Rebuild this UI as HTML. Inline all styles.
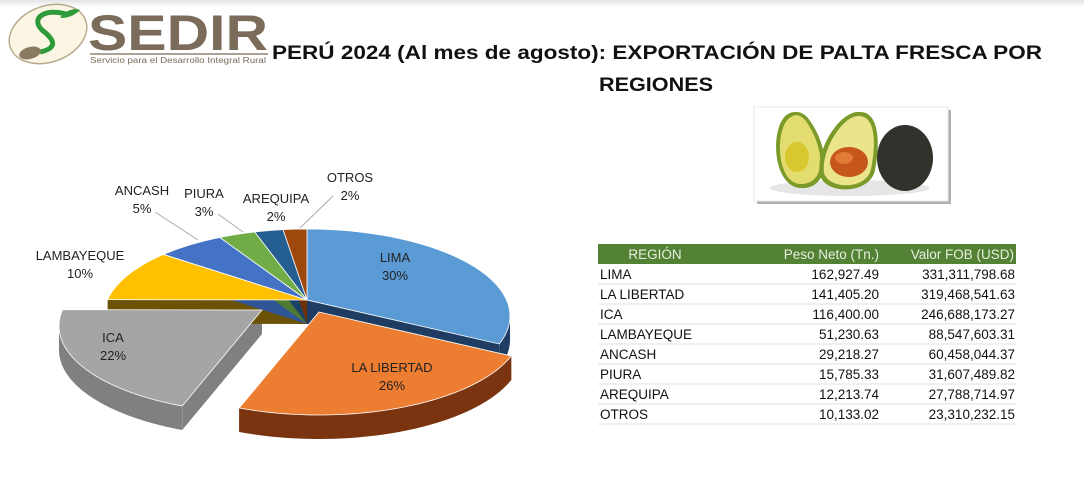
<!DOCTYPE html>
<html><head><meta charset="utf-8">
<style>
body{margin:0;width:1084px;height:496px;background:#fff;overflow:hidden;font-family:"Liberation Sans",sans-serif;}
svg{display:block}
</style></head>
<body>
<svg width="1084" height="496" viewBox="0 0 1084 496">
<defs>
<linearGradient id="topbar" x1="0" y1="0" x2="0" y2="1"><stop offset="0" stop-color="#e4e4e4"/><stop offset="1" stop-color="#fff"/></linearGradient>
</defs>
<rect x="0" y="0" width="1084" height="7" fill="url(#topbar)"/>
<g>
  <ellipse cx="48" cy="34" rx="40" ry="28" transform="rotate(-20 48 34)" fill="#fbf6e4" stroke="#b8a98a" stroke-width="1.5"/>
  <path d="M66 14 C45 8,30 18,42 30 C55 40,58 48,40 52" fill="none" stroke="#2e9b3a" stroke-width="5"/>
  <path d="M60 18 C66 9,76 8,80 10 C74 16,68 18,60 18Z" fill="#2e9b3a"/>
  <ellipse cx="30" cy="53" rx="11" ry="6" transform="rotate(-15 30 53)" fill="#8a7a62"/>
  <text x="88" y="50" font-size="50" font-weight="bold" fill="#7b6b5a" textLength="180" lengthAdjust="spacingAndGlyphs">SEDIR</text>
  <line x1="90" y1="54" x2="268" y2="54" stroke="#7b6b5a" stroke-width="1.2"/>
  <text x="90" y="63" font-size="8" fill="#7b6b5a" textLength="176" lengthAdjust="spacingAndGlyphs">Servicio para el Desarrollo Integral Rural</text>
</g>
<text x="272" y="59" font-size="19.5" font-weight="bold" fill="#111" textLength="770" lengthAdjust="spacingAndGlyphs">PERÚ 2024 (Al mes de agosto): EXPORTACIÓN DE PALTA FRESCA POR</text>
<text x="599" y="91" font-size="19.5" font-weight="bold" fill="#111" textLength="114" lengthAdjust="spacingAndGlyphs">REGIONES</text>

<g>
  <rect x="757" y="110" width="194" height="94" fill="#b0b0b0"/>
  <rect x="754" y="107" width="194" height="94" fill="#fff" stroke="#e8e8e8"/>
  <ellipse cx="850" cy="188" rx="80" ry="8" fill="#e6e6e6"/>
  <ellipse cx="905" cy="158" rx="28" ry="33" fill="#2f332c"/>
  <path d="M790 113 C770 120,770 185,800 188 C830 190,832 150,808 118 C802 111,795 111,790 113Z" fill="#7a9a2a"/>
  <path d="M791 117 C775 125,775 182,800 184 C826 185,826 150,806 121 C800 114,795 114,791 117Z" fill="#e3dc6e"/>
  <ellipse cx="797" cy="157" rx="12" ry="15" fill="#d9c730"/>
  <path d="M860 112 C840 110,815 150,820 175 C825 195,870 195,875 170 C880 145,880 112,860 112Z" fill="#7a9a2a"/>
  <path d="M859 116 C843 115,821 150,824 173 C829 190,867 190,871 169 C876 145,876 116,859 116Z" fill="#ebe48a"/>
  <ellipse cx="849" cy="162" rx="19" ry="15" fill="#c5571a"/>
  <ellipse cx="844" cy="158" rx="9" ry="6" fill="#e07a35"/>
</g>

<g id="pie"></g>

<g>
  <rect x="598" y="244" width="418" height="20" fill="#548235"/>
  <text x="655" y="259" font-size="13.5" fill="#e8efe0" text-anchor="middle">REGIÓN</text>
  <text x="879" y="259" font-size="13.5" fill="#e8efe0" text-anchor="end">Peso Neto (Tn.)</text>
  <text x="1014" y="259" font-size="13.5" fill="#e8efe0" text-anchor="end">Valor FOB (USD)</text>
  <g id="rows"></g>
</g>
</svg>
<script>
const regions=["LIMA","LA LIBERTAD","ICA","LAMBAYEQUE","ANCASH","PIURA","AREQUIPA","OTROS"];
const peso=[162927.49,141405.20,116400.00,51230.63,29218.27,15785.33,12213.74,10133.02];
const valor=[331311798.68,319468541.63,246688173.27,88547603.31,60458044.37,31607489.82,27788714.97,23310232.15];
const pctLabels=["30%","26%","22%","10%","5%","3%","2%","2%"];
const topColors=["#5b9bd5","#ed7d31","#a5a5a5","#ffc000","#4472c4","#70ad47","#255e91","#9e480e"];
const sideColors=["#1f3d63","#7a3510","#808080","#6b5206","#2f5597","#4e7a31","#1a4266","#6e320a"];
const NS="http://www.w3.org/2000/svg";
const fmt=v=>v.toLocaleString("en-US",{minimumFractionDigits:2,maximumFractionDigits:2});
const rows=document.getElementById("rows");
regions.forEach((r,i)=>{
  const y=279+i*20;
  const g=document.createElementNS(NS,"g");
  
  
  g.innerHTML=`<line x1="598" y1="${y+5}" x2="1016" y2="${y+5}" stroke="#e2e2e2"/>`+
   `<text x="600" y="${y}" font-size="13.5" fill="#111">${r}</text>`+
   `<text x="879" y="${y}" font-size="13.5" fill="#111" text-anchor="end">${fmt(peso[i])}</text>`+
   `<text x="1015" y="${y}" font-size="13.5" fill="#111" text-anchor="end">${fmt(valor[i])}</text>`;
  rows.appendChild(g);
});
// pie: ellipse center (cx,cy), apex at (cx,ay) for perspective look
const cx=307,cy=316,ay=300,rx=203,ry=87,depth=24;
const offsets=[[0,0],[12,12],[-45,10],[0,0],[0,0],[0,0],[0,0],[0,0]];
const total=peso.reduce((a,b)=>a+b,0);
const pie=document.getElementById("pie");
const pt=(ox,oy,t,dy)=>[cx+ox+rx*Math.sin(t),cy+oy-ry*Math.cos(t)+(dy||0)];
let a=0;const slices=[];
peso.forEach((v,i)=>{const s=a,e=a+v/total*2*Math.PI;slices.push([s,e]);a=e;});
function arcPts(ox,oy,s,e,dy){const p=[];const n=Math.max(2,Math.ceil((e-s)/0.03));for(let k=0;k<=n;k++){p.push(pt(ox,oy,s+(e-s)*k/n,dy));}return p;}
const sides=document.createElementNS(NS,"g");const tops=document.createElementNS(NS,"g");
pie.appendChild(sides);pie.appendChild(tops);
slices.forEach(([s,e],i)=>{
  const [ox,oy]=offsets[i];const c=[cx+ox,ay+oy];
  [s,e].forEach(t=>{const p=pt(ox,oy,t);
    const w=document.createElementNS(NS,"polygon");
    w.setAttribute("points",`${c[0]},${c[1]} ${p[0]},${p[1]} ${p[0]},${p[1]+depth} ${c[0]},${c[1]+depth}`);
    w.setAttribute("fill",sideColors[i]);
    
    
    sides.appendChild(w);});
  const fs=Math.max(s,Math.PI/2),fe=Math.min(e,3*Math.PI/2);
  if(fe>fs){const t1=arcPts(ox,oy,fs,fe,0),b1=arcPts(ox,oy,fs,fe,depth).reverse();
    const w=document.createElementNS(NS,"polygon");
    w.setAttribute("points",t1.concat(b1).map(p=>p.join(",")).join(" "));
    w.setAttribute("fill",sideColors[i]);
    
    
    sides.appendChild(w);}
  const p=[c].concat(arcPts(ox,oy,s,e,0));
  const poly=document.createElementNS(NS,"polygon");
  poly.setAttribute("points",p.map(q=>q.join(",")).join(" "));
  poly.setAttribute("fill",topColors[i]);
  poly.setAttribute("stroke","#fff");poly.setAttribute("stroke-width","0.8");
  
  
  tops.appendChild(poly);
});
const labelPos=[[395,262],[392,372],[113,342],[80,260],[142,195],[204,198],[276,203],[350,182]];
const leaders=[null,null,null,null,[155,212,198,240],[218,214,243,232],null,[333,196,300,228]];
regions.forEach((r,i)=>{
  const [x,y]=labelPos[i];
  const t=document.createElementNS(NS,"text");
  t.setAttribute("x",x);t.setAttribute("text-anchor","middle");t.setAttribute("font-size","13");
  t.setAttribute("fill","#222");
  t.innerHTML=`<tspan x="${x}" y="${y}">${r}</tspan><tspan x="${x}" y="${y+18}">${pctLabels[i]}</tspan>`;
  
  
  pie.appendChild(t);
  if(leaders[i]){const l=leaders[i];const ln=document.createElementNS(NS,"line");
    ln.setAttribute("x1",l[0]);ln.setAttribute("y1",l[1]);ln.setAttribute("x2",l[2]);ln.setAttribute("y2",l[3]);
    ln.setAttribute("stroke","#aaa");
    
    
    pie.appendChild(ln);}
});
</script>
</body></html>
